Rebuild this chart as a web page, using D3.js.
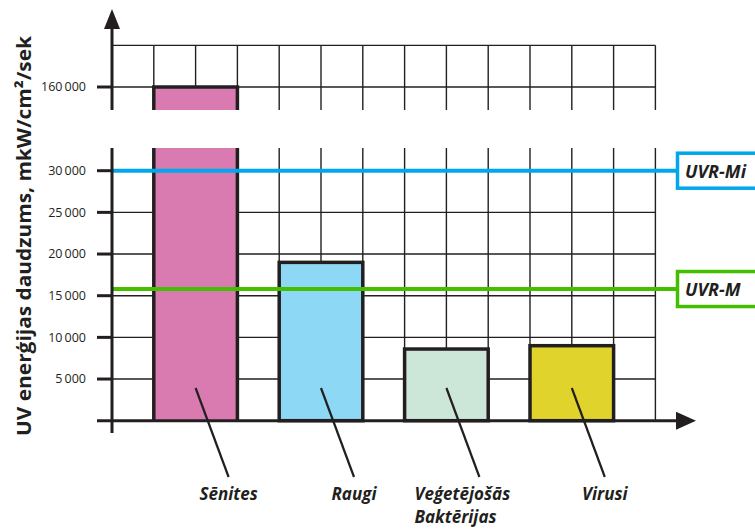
<!DOCTYPE html>
<html>
<head>
<meta charset="utf-8">
<script src="https://cdn.jsdelivr.net/npm/d3@7"></script>
<style>
  html, body { margin: 0; padding: 0; background: #fff; }
  svg { display: block; }
  text { font-family: "Open Sans", "Noto Sans", sans-serif; fill: #231f20; }
</style>
</head>
<body>
<svg id="chart" width="755" height="531"></svg>
<script>
// ---- data ----
const categories = ["Sēnites", "Raugi", "Veģetējošās Baktērijas", "Virusi"];
const labelLines = [["Sēnites"], ["Raugi"], ["Veģetējošās", "Baktērijas"], ["Virusi"]];
const values = [160000, 19000, 8600, 9000];
const barColors = ["#d97ab0", "#8dd8f5", "#cce6d7", "#e0d32b"];
const lowTicks = [5000, 10000, 15000, 20000, 25000, 30000];
const highTicks = [160000];
const refNames = ["UVR-Mi", "UVR-M"];
const refValues = [30000, 15800];
const refColors = ["#00a7ec", "#43bf00"];
const yTitle = "UV enerģijas daudzums,  mkW/cm²/sek";

// ---- layout ----
const svg = d3.select("#chart");
const ink = "#231f20";
const x0 = 112, x1 = 655.4;
const x = d3.scaleBand().domain(categories).range([x0, x1]).paddingInner(1 / 3).paddingOuter(1 / 3);
const col = x.step() / 3;
const nCols = Math.round((x1 - x0) / col);

const yLow = d3.scaleLinear().domain([0, 30000]).range([420.7, 170.7]);
const yHigh = d3.scaleLinear().domain([160000, 165000]).range([87, 45.4]);
const lowTop = 148, highBottom = 110;

const fmt = v => d3.format(",")(v).replace(",", "\u2009");

// grid - lower section
const g = svg.append("g");
lowTicks.forEach(t => {
  g.append("line").attr("x1", x0).attr("x2", x1).attr("y1", yLow(t)).attr("y2", yLow(t))
    .attr("stroke", ink).attr("stroke-width", 1.4);
});
for (let k = 1; k <= nCols; k++) {
  const xx = x0 + k * col;
  g.append("line").attr("x1", xx).attr("x2", xx).attr("y1", lowTop).attr("y2", yLow(0))
    .attr("stroke", ink).attr("stroke-width", 1.4);
  g.append("line").attr("x1", xx).attr("x2", xx).attr("y1", yHigh(165000)).attr("y2", highBottom)
    .attr("stroke", ink).attr("stroke-width", 1.4);
}
// grid - upper section
[160000, 165000].forEach(t => {
  g.append("line").attr("x1", x0).attr("x2", x1).attr("y1", yHigh(t)).attr("y2", yHigh(t))
    .attr("stroke", ink).attr("stroke-width", 1.4);
});

// bars
categories.forEach((c, i) => {
  const v = values[i];
  const bx = x(c), bw = x.bandwidth();
  const bars = svg.append("g");
  const sw = 3.5;
  if (v > 30000) {
    bars.append("rect").attr("x", bx).attr("y", lowTop).attr("width", bw).attr("height", yLow(0) - lowTop)
      .attr("fill", barColors[i]);
    bars.append("rect").attr("x", bx).attr("y", yHigh(v)).attr("width", bw).attr("height", highBottom - yHigh(v))
      .attr("fill", barColors[i]);
    [bx, bx + bw].forEach(xx => {
      bars.append("line").attr("x1", xx).attr("x2", xx).attr("y1", lowTop).attr("y2", yLow(0))
        .attr("stroke", ink).attr("stroke-width", sw);
      bars.append("line").attr("x1", xx).attr("x2", xx).attr("y1", yHigh(v)).attr("y2", highBottom)
        .attr("stroke", ink).attr("stroke-width", sw);
    });
    bars.append("line").attr("x1", bx - sw / 2).attr("x2", bx + bw + sw / 2).attr("y1", yHigh(v)).attr("y2", yHigh(v))
      .attr("stroke", ink).attr("stroke-width", sw);
  } else {
    bars.append("rect").attr("x", bx).attr("y", yLow(v)).attr("width", bw).attr("height", yLow(0) - yLow(v))
      .attr("fill", barColors[i]).attr("stroke", ink).attr("stroke-width", sw);
  }
});

// reference lines + boxes
refValues.forEach((v, i) => {
  const yy = yLow(v);
  svg.append("line").attr("x1", x0).attr("x2", 677).attr("y1", yy).attr("y2", yy)
    .attr("stroke", refColors[i]).attr("stroke-width", 4);
  svg.append("rect").attr("x", 677.5).attr("y", yy - 17.5).attr("width", 90).attr("height", 35)
    .attr("fill", "#fff").attr("stroke", refColors[i]).attr("stroke-width", 3.5);
  svg.append("text").attr("x", 685).attr("y", yy + 7)
    .attr("font-size", 18).attr("font-weight", 700).attr("font-style", "italic")
    .text(refNames[i]);
});

// axes
const ax = svg.append("g");
ax.append("line").attr("x1", x0).attr("x2", x0).attr("y1", lowTop).attr("y2", 433)
  .attr("stroke", ink).attr("stroke-width", 3);
ax.append("line").attr("x1", x0).attr("x2", x0).attr("y1", 26).attr("y2", highBottom)
  .attr("stroke", ink).attr("stroke-width", 3);
ax.append("path").attr("d", `M${x0},9 L${x0 - 8},29 L${x0 + 8},29 Z`).attr("fill", ink);
ax.append("line").attr("x1", 97).attr("x2", 680).attr("y1", yLow(0)).attr("y2", yLow(0))
  .attr("stroke", ink).attr("stroke-width", 3);
ax.append("path").attr("d", `M696,${yLow(0)} L676,${yLow(0) - 9} L676,${yLow(0) + 9} Z`).attr("fill", ink);

function tick(yy, v) {
  ax.append("line").attr("x1", 97).attr("x2", x0).attr("y1", yy).attr("y2", yy)
    .attr("stroke", ink).attr("stroke-width", 3);
  ax.append("text").attr("x", 86).attr("y", yy + 4.3).attr("text-anchor", "end")
    .attr("font-size", 12.5).text(fmt(v));
}
lowTicks.forEach(t => tick(yLow(t), t));
highTicks.forEach(t => tick(yHigh(t), t));

// leader lines + labels
categories.forEach((c, i) => {
  const cx = x(c) + x.bandwidth() / 2;
  svg.append("line").attr("x1", cx).attr("y1", 388).attr("x2", cx + 33).attr("y2", 477)
    .attr("stroke", ink).attr("stroke-width", 2.2);
  const lines = labelLines[i];
  const t = svg.append("text").attr("font-size", 17).attr("font-weight", 700).attr("font-style", "italic");
  if (lines.length > 1) {
    t.attr("text-anchor", "start");
    lines.forEach((ln, j) => {
      t.append("tspan").attr("x", cx - 32).attr("y", 500 + j * 23).text(ln);
    });
  } else {
    t.attr("text-anchor", "middle").attr("x", cx + 33).attr("y", 500).text(lines[0]);
  }
});

// y title
svg.append("text")
  .attr("transform", "translate(31,236) rotate(-90)")
  .attr("text-anchor", "middle")
  .attr("font-size", 19.5).attr("font-weight", 700)
  .attr("textLength", 400).attr("lengthAdjust", "spacingAndGlyphs")
  .text(yTitle);
</script>
</body>
</html>
